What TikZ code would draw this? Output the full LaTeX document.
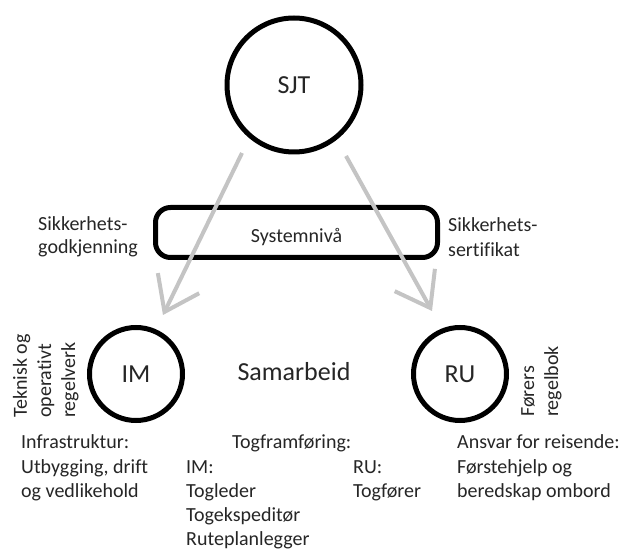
\documentclass[tikz,border=0pt]{standalone}
\usepackage{fontspec}
\setmainfont{Carlito}[Ligatures=NoCommon]
\usetikzlibrary{arrows.meta}
\definecolor{ink}{HTML}{262626}
\definecolor{arrowgray}{HTML}{C4C4C4}
\begin{document}
\begin{tikzpicture}[x=1pt,y=-1pt,
  txt/.style={font=\fontsize{20}{24}\selectfont, text=ink, inner sep=0pt, anchor=base west},
  vtxt/.style={txt, rotate=90},
  big/.style={font=\fontsize{26}{30}\selectfont, text=ink},
  ring/.style={draw=black, line width=5pt, circle, inner sep=0pt},
  arr/.style={draw=arrowgray, line width=4pt, -{Straight Barb[length=32pt,width=46pt]}}]
\useasboundingbox[fill=white] (0,0) rectangle (625,553);

% main circles
\node[ring, big, minimum size=134pt] (sjt) at (294,85) {SJT};
\node[ring, big, minimum size=93pt] (im) at (136,374) {IM};
\node[ring, big, minimum size=93pt] (ru) at (460,374) {RU};
\node[big, inner sep=0pt, anchor=base] (sam) at (294,381) {Samarbeid};

% system level box
\node[draw=black, line width=5pt, rounded corners=15pt, minimum width=282pt,
      minimum height=50pt, inner sep=0pt, text height=21pt, text depth=0pt,
      font=\fontsize{20}{24}\selectfont, text=ink] (sys) at (296.5,232.5) {Systemnivå};

% arrows
\coordinate (a1s) at (242,153);
\coordinate (a1e) at (163,315);
\coordinate (a2s) at (346,156);
\coordinate (a2e) at (432,311);
\draw[arr] (a1s) -- (a1e);
\draw[arr] (a2s) -- (a2e);

% labels beside the box
\node[txt] (sg1) at (38,231) {Sikkerhets-};
\node[txt] (sg2) at (38,254) {godkjenning};
\node[txt] (ss1) at (448,232) {Sikkerhets-};
\node[txt] (ss2) at (448,257) {sertifikat};

% vertical labels
\node[vtxt] (v1) at (27,418) {Teknisk og};
\node[vtxt] (v2) at (51,418) {operativt};
\node[vtxt] (v3) at (75,418) {regelverk};
\node[vtxt] (v4) at (534,417) {Førers};
\node[vtxt] (v5) at (558,417) {regelbok};

% bottom texts
\node[txt] (i1) at (21,449) {Infrastruktur:};
\node[txt] (i2) at (21,474) {Utbygging, drift};
\node[txt] (i3) at (21,498) {og vedlikehold};

\node[txt] (t0) at (232,449) {Togframføring:};
\node[txt] (t1) at (186,474) {IM:};
\node[txt] (t2) at (186,498) {Togleder};
\node[txt] (t3) at (186,522) {Togekspeditør};
\node[txt] (t4) at (186,546) {Ruteplanlegger};
\node[txt] (r1) at (353,474) {RU:};
\node[txt] (r2) at (353,498) {Togfører};

\node[txt] (a1) at (457,449) {Ansvar for reisende:};
\node[txt] (a2) at (457,474) {Førstehjelp og};
\node[txt] (a3) at (457,498) {beredskap ombord};
\end{tikzpicture}
\end{document}
